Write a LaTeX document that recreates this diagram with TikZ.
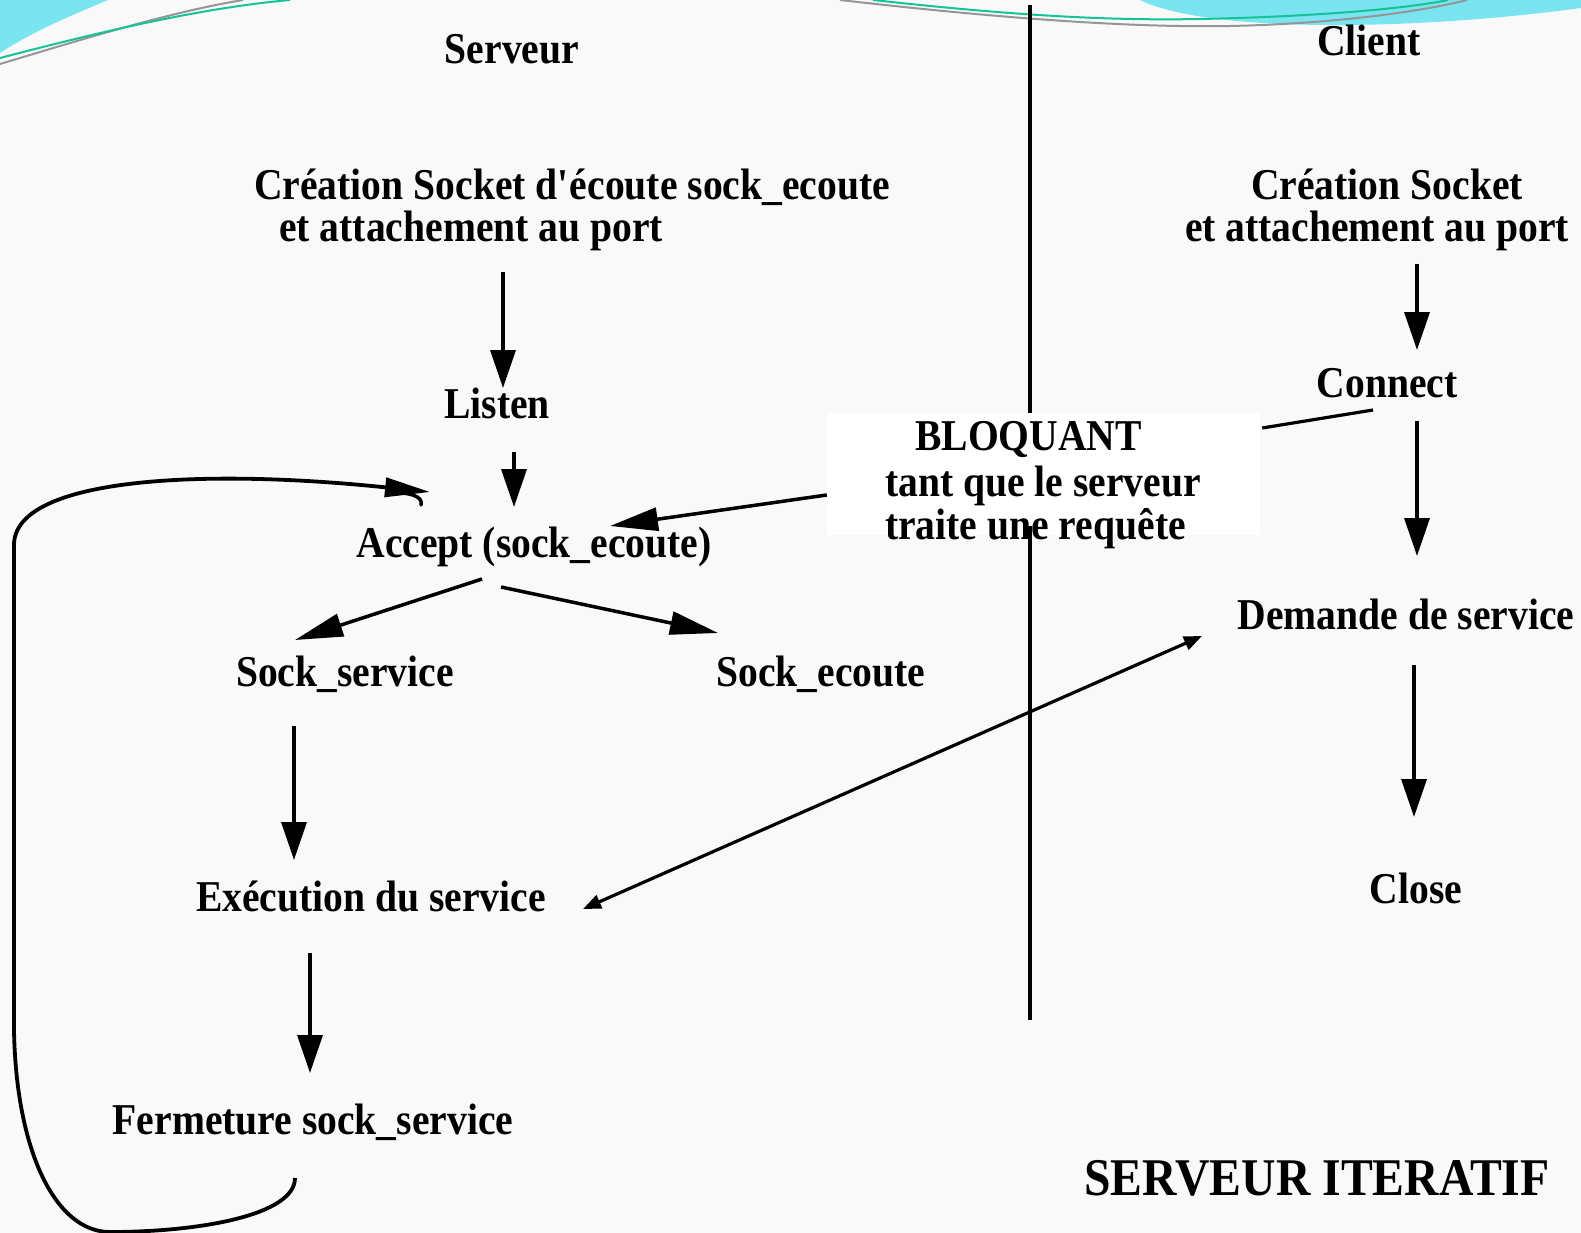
\documentclass[tikz,border=0pt]{standalone}
\usepackage{fontspec}
\setmainfont{Liberation Serif}[FakeStretch=0.9]
\usetikzlibrary{arrows.meta}
\definecolor{bgpaper}{RGB}{249,249,249}
\definecolor{swcyan}{RGB}{122,228,240}
\definecolor{swteal}{RGB}{20,196,150}
\definecolor{swgrey}{RGB}{150,150,150}

\begin{document}
\begin{tikzpicture}[x=1pt,y=-1pt,
  lbl/.style={inner sep=0pt, anchor=base, font=\fontsize{44}{50}\selectfont\bfseries},
  big/.style={lbl, font=\fontsize{53}{60}\selectfont\bfseries},
  flow/.style={line width=3.5pt, -{Triangle[length=38pt,width=25pt]}},
  wide/.style={line width=3.5pt, -{Triangle[length=48pt,width=23pt]}},
  both/.style={line width=3.2pt, {Triangle[length=18pt,width=14pt]}-{Triangle[length=18pt,width=14pt]}},
  plain/.style={line width=3.2pt},
  loopline/.style={line width=3.8pt, -{Triangle[length=45pt,width=19pt]}},
  swoosh/.style={line width=2pt}]

% page
\fill[bgpaper] (0,0) rectangle (1581,1233);
\useasboundingbox (0,0) rectangle (1581,1233);

% slide ornaments
\fill[swcyan] (0,0) -- (108,0) .. controls (75,14) and (35,30) .. (0,53) -- cycle;
\draw[swoosh, swgrey] (0,64) .. controls (80,40) and (170,12) .. (243,0);
\draw[swoosh, swteal] (0,58) .. controls (100,32) and (200,8) .. (290,0);
\fill[swcyan] (1140,0) .. controls (1210,34) and (1420,30) .. (1581,8) -- (1581,0) -- cycle;
\draw[swoosh, swteal] (873,0) .. controls (1000,14) and (1100,21) .. (1200,19)
  .. controls (1300,17) and (1400,10) .. (1448,0);
\draw[swoosh, swgrey] (840,0) .. controls (980,16) and (1120,28) .. (1230,26)
  .. controls (1330,24) and (1420,12) .. (1467,0);

% white panel of the blocking note
\node[fill=white, inner sep=0pt, minimum width=433pt, minimum height=122pt] (blbox) at (1043.5,474) {};

% separator between server and client
\coordinate (vtop) at (1030,5);
\coordinate (vmid) at (1030,526);
\coordinate (vbot) at (1030,1020);
\draw[plain] (vtop) -- (vtop |- blbox.north);
\draw[plain] (vmid) -- (vbot);

% labels
\node[lbl] (serveur) at (512,64) {Serveur};
\node[lbl] (client) at (1369,56) {Client};
\node[lbl, anchor=base west] (cs1) at (254,200) {Création Socket d\textquotesingle écoute sock\_ecoute};
\node[lbl, anchor=base west] (cs2) at (279,242) {et attachement au port};
\node[lbl] (cc1) at (1387,200) {Création Socket};
\node[lbl] (cc2) at (1377,242) {et attachement au port};
\node[lbl] (listen) at (497,418) {Listen};
\node[lbl] (connect) at (1387,397) {Connect};
\node[lbl, anchor=base west] (bl1) at (915,450) {BLOQUANT};
\node[lbl, anchor=base west] (bl2) at (885,496) {tant que le serveur};
\node[lbl, anchor=base west] (bl3) at (885,539) {traite une requête};
\node[lbl] (accept) at (534,557) {Accept (sock\_ecoute)};
\node[lbl] (sserv) at (345,686) {Sock\_service};
\node[lbl] (secoute) at (821,686) {Sock\_ecoute};
\node[lbl] (demande) at (1406,629) {Demande de service};
\node[lbl] (exec) at (371,911) {Exécution du service};
\node[lbl] (close) at (1416,903) {Close};
\node[lbl] (ferm) at (313,1134) {Fermeture sock\_service};
\node[big] (title) at (1317,1195) {SERVEUR ITERATIF};

% server side
\draw[flow] ([xshift=224pt,yshift=-30pt]cs2.base west) -- ([xshift=6pt,yshift=30pt]listen.base);
\draw[flow] ([xshift=17pt,yshift=-34pt]listen.base) -- ([xshift=-20pt,yshift=50pt]accept.base);
\draw[wide] ([xshift=-52pt,yshift=-22pt]accept.base) -- ([xshift=-50pt,yshift=46pt]sserv.base);
\draw[wide] ([xshift=-33pt,yshift=-30pt]accept.base) -- ([xshift=-103pt,yshift=53pt]secoute.base);
\draw[flow] ([xshift=-51pt,yshift=-40pt]sserv.base) -- ([xshift=-77pt,yshift=51pt]exec.base);
\draw[flow] ([xshift=-61pt,yshift=-42pt]exec.base) -- ([xshift=-3pt,yshift=61pt]ferm.base);

% client side
\draw[flow] ([xshift=40pt,yshift=-22pt]cc2.base) -- ([xshift=30pt,yshift=47pt]connect.base);
\draw[flow] ([xshift=30pt,yshift=-24pt]connect.base) -- ([xshift=11pt,yshift=73pt]demande.base);
\draw[flow] ([xshift=8pt,yshift=-36pt]demande.base) -- ([xshift=-2pt,yshift=86pt]close.base);

% blocking note and exchange
\draw[wide] ([yshift=-21pt]blbox.west) -- ([xshift=76pt,yshift=31pt]accept.base);
\draw[plain] ([xshift=-14pt,yshift=-13pt]connect.base) -- ([xshift=2pt,yshift=46pt]blbox.east);
\draw[both] ([xshift=212pt,yshift=2pt]exec.base) -- ([xshift=-204pt,yshift=-7pt]demande.base);

% iteration loop back to accept
\draw[loopline] ([xshift=-18pt,yshift=-44pt]ferm.base)
  .. controls (295,1215) and (200,1232) .. (110,1232)
  .. controls (55,1232) and (16,1150) .. (14,1030)
  -- (14,545)
  .. controls (14,478) and (200,468) .. ([xshift=-104pt,yshift=65pt]accept.base);
\draw[line width=3.5pt, line cap=round] (402,493) .. controls (414,494) and (423,498) .. (421,505);

\end{tikzpicture}
\end{document}
